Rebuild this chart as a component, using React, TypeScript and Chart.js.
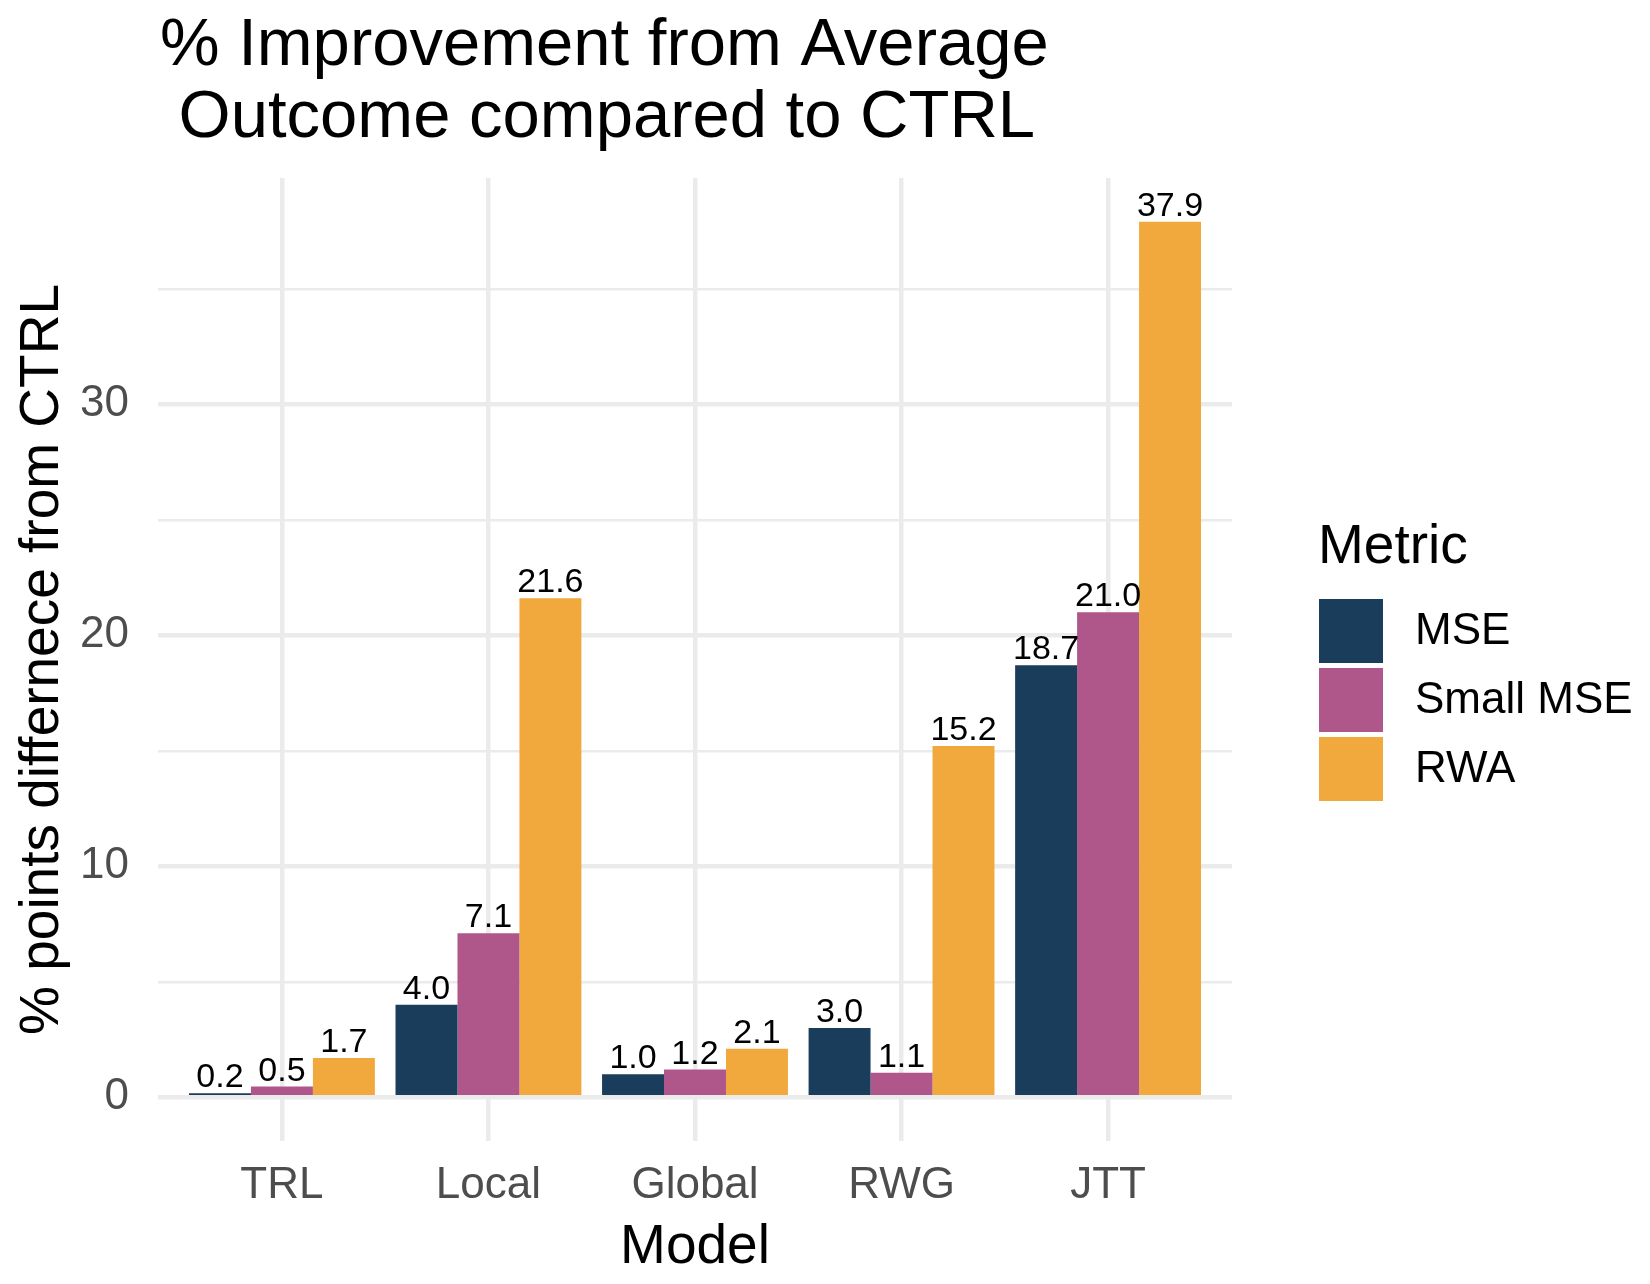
import React, { useEffect, useRef } from 'react';
import { Chart, registerables } from 'chart.js';

Chart.register(...registerables);

const FONT = '"Liberation Sans", Arial, Helvetica, sans-serif';

// ---- data ----
const categories = ['TRL', 'Local', 'Global', 'RWG', 'JTT'];
const metricNames = ['MSE', 'Small MSE', 'RWA'];
const mseValues = [0.17, 4.0, 1.0, 3.0, 18.7];
const smallMseValues = [0.46, 7.1, 1.2, 1.06, 21.0];
const rwaValues = [1.7, 21.6, 2.1, 15.2, 37.9];
const metricColors = ['#1B3D5C', '#AF578B', '#F1A93D'];
const yTickValues = [0, 5, 10, 15, 20, 25, 30, 35];
const titleLines = ['% Improvement from Average', ' Outcome compared to CTRL'];
const xTitle = 'Model';
const yTitle = '% points differnece from CTRL';
const legendTitle = 'Metric';

const seriesValues = [mseValues, smallMseValues, rwaValues];
const allValues = seriesValues.flat();
const yTop = Math.max(...allValues);
const yPad = 0.05 * yTop;

const annotations = {
  id: 'annotations',
  afterDatasetsDraw(chart: any) {
    const ctx = chart.ctx;
    ctx.save();
    ctx.fillStyle = '#000000';
    ctx.font = `34px ${FONT}`;
    ctx.textAlign = 'center';
    ctx.textBaseline = 'alphabetic';
    chart.data.datasets.forEach((ds: any, di: number) => {
      const meta = chart.getDatasetMeta(di);
      meta.data.forEach((el: any, i: number) => {
        const v = ds.data[i].y as number;
        ctx.fillText(v.toFixed(1), el.x, el.y - 6);
      });
    });
    ctx.restore();
  },
  afterDraw(chart: any) {
    const ctx = chart.ctx;
    const area = chart.chartArea;
    ctx.save();
    ctx.fillStyle = '#000000';
    // title
    ctx.font = `67px ${FONT}`;
    ctx.textAlign = 'left';
    ctx.textBaseline = 'alphabetic';
    ctx.fillText(titleLines[0], 160, 65);
    ctx.fillText(titleLines[1], 160, 137);
    // x title
    ctx.font = `55px ${FONT}`;
    ctx.textAlign = 'center';
    ctx.fillText(xTitle, (area.left + area.right) / 2, 1263);
    // y title
    ctx.save();
    ctx.translate(58, (area.top + area.bottom) / 2);
    ctx.rotate(-Math.PI / 2);
    ctx.textAlign = 'center';
    ctx.fillText(yTitle, 0, 0);
    ctx.restore();
    // legend
    ctx.textAlign = 'left';
    ctx.font = `55px ${FONT}`;
    ctx.fillText(legendTitle, 1318, 563);
    ctx.font = `44px ${FONT}`;
    ctx.textBaseline = 'middle';
    chart.data.datasets.forEach((ds: any, di: number) => {
      const y = 599 + di * 69;
      ctx.fillStyle = ds.backgroundColor;
      ctx.fillRect(1319, y, 64, 64);
      ctx.fillStyle = '#000000';
      ctx.fillText(ds.label, 1415, y + 33);
    });
    ctx.restore();
  },
};

export default function App() {
  const canvasRef = useRef<HTMLCanvasElement | null>(null);

  useEffect(() => {
    if (!canvasRef.current) return;
    Chart.defaults.font.family = FONT;
    const chart = new Chart(canvasRef.current, {
      type: 'bar',
      data: {
        datasets: metricNames.map((name, di) => ({
          label: name,
          data: seriesValues[di].map((v, i) => ({ x: i, y: v })),
          backgroundColor: metricColors[di],
          borderWidth: 0,
          categoryPercentage: 0.9,
          barPercentage: 1.0,
        })),
      },
      options: {
        animation: false,
        responsive: false,
        devicePixelRatio: 1,
        layout: { padding: { left: 0, top: 178, right: 418, bottom: 0 } },
        plugins: {
          legend: { display: false },
          title: { display: false },
          tooltip: { enabled: false },
        },
        scales: {
          x: {
            type: 'linear',
            min: -0.6,
            max: categories.length - 0.4,
            offset: false,
            afterBuildTicks: (scale: any) => {
              scale.ticks = categories.map((_, i) => ({ value: i }));
            },
            afterFit: (scale: any) => {
              scale.height = 143;
            },
            grid: {
              offset: false,
              color: '#EBEBEB',
              lineWidth: 4.5,
              drawTicks: false,
            },
            border: { display: false },
            ticks: {
              autoSkip: false,
              maxRotation: 0,
              padding: 18,
              color: '#4D4D4D',
              font: { size: 44, family: FONT },
              callback: (v: any) => categories[Number(v)] ?? '',
            },
          },
          y: {
            type: 'linear',
            min: -yPad,
            max: yTop + yPad,
            afterBuildTicks: (scale: any) => {
              scale.ticks = yTickValues.map((v) => ({ value: v }));
            },
            afterFit: (scale: any) => {
              scale.width = 158;
            },
            grid: {
              color: '#EBEBEB',
              lineWidth: (c: any) => (c.tick && c.tick.value % 10 === 0 ? 4.5 : 2.4),
              drawTicks: false,
            },
            border: { display: false },
            ticks: {
              padding: 29,
              color: '#4D4D4D',
              font: { size: 44, family: FONT },
              callback: (v: any) => (Number(v) % 10 === 0 ? String(v) : ''),
            },
          },
        },
      } as any,
      plugins: [annotations],
    });
    return () => chart.destroy();
  }, []);

  return (
    <div
      style={{
        position: 'fixed',
        left: 0,
        top: 0,
        width: 1650,
        height: 1284,
        background: '#ffffff',
      }}
    >
      <canvas ref={canvasRef} width={1650} height={1284} style={{ display: 'block' }} />
    </div>
  );
}
